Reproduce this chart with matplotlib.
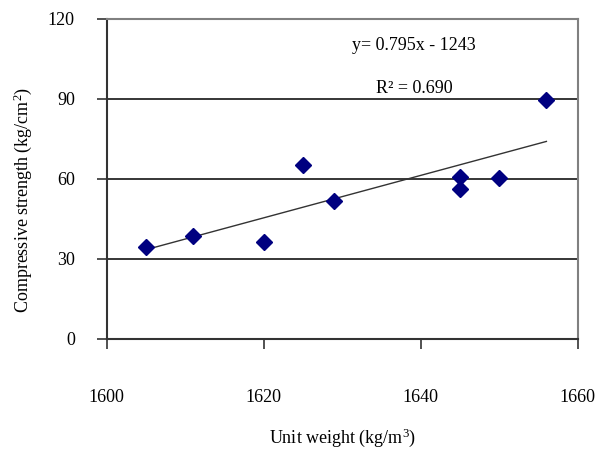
import numpy as np
import matplotlib
matplotlib.use('Agg')
import matplotlib.pyplot as plt

plt.rcParams['font.family'] = ['Liberation Serif', 'DejaVu Serif']
plt.rcParams['mathtext.default'] = 'regular'

# unit weight (kg/m3) vs compressive strength (kg/cm2)
unit_weight = [1605, 1611, 1620, 1625, 1629, 1645, 1645, 1650, 1656]
strength = [34.5, 38.6, 36.4, 65.2, 51.7, 60.7, 56.2, 60.4, 89.6]
xticks = [1600, 1620, 1640, 1660]
yticks = [0, 30, 60, 90, 120]

x = np.array(unit_weight)
y = np.array(strength)
slope, icpt = np.polyfit(x, y, 1)

fig = plt.figure(figsize=(6, 4.53), dpi=100)
ax = fig.add_axes([0.178, 0.2517, 0.785, 0.7064])

for g in [30, 60, 90]:
    ax.axhline(g, color='black', lw=1.1, zorder=1)

xl = np.array([x.min(), x.max()])
ax.plot(xl, slope*xl + icpt, color='#333333', lw=1.0, zorder=2)
ax.plot(x, y, 'D', color='#000080', markersize=8.5, zorder=3)

ax.set_xlim(1600, 1660)
ax.set_ylim(0, 120)
ax.set_xticks(xticks)
ax.set_yticks(yticks)

ax.spines['top'].set_color('#808080')
ax.spines['right'].set_color('#808080')
ax.spines['top'].set_linewidth(1.5)
ax.spines['right'].set_linewidth(1.5)
ax.spines['left'].set_color('#333333')
ax.spines['bottom'].set_color('#333333')
ax.spines['left'].set_linewidth(1.5)
ax.spines['bottom'].set_linewidth(1.5)

ax.tick_params(axis='x', direction='out', length=7, width=1.2, color='#333333',
               pad=29, labelsize=13)
ax.tick_params(axis='y', direction='out', length=7, width=1.2, color='#333333',
               pad=16, labelsize=13)

ax.set_xlabel('Unit weight (kg/m$^{3}$)', fontsize=13, labelpad=15)
ax.set_ylabel('Compressive strength (kg/cm$^{2}$)', fontsize=13, labelpad=10)
ax.yaxis.label.set_y(0.435)

ax.text(0.652, 0.918, 'y= 0.795x - 1243', transform=ax.transAxes,
        ha='center', va='center', fontsize=13)
ax.text(0.652, 0.783, 'R² = 0.690', transform=ax.transAxes,
        ha='center', va='center', fontsize=13)

plt.savefig('out.png', dpi=100)
